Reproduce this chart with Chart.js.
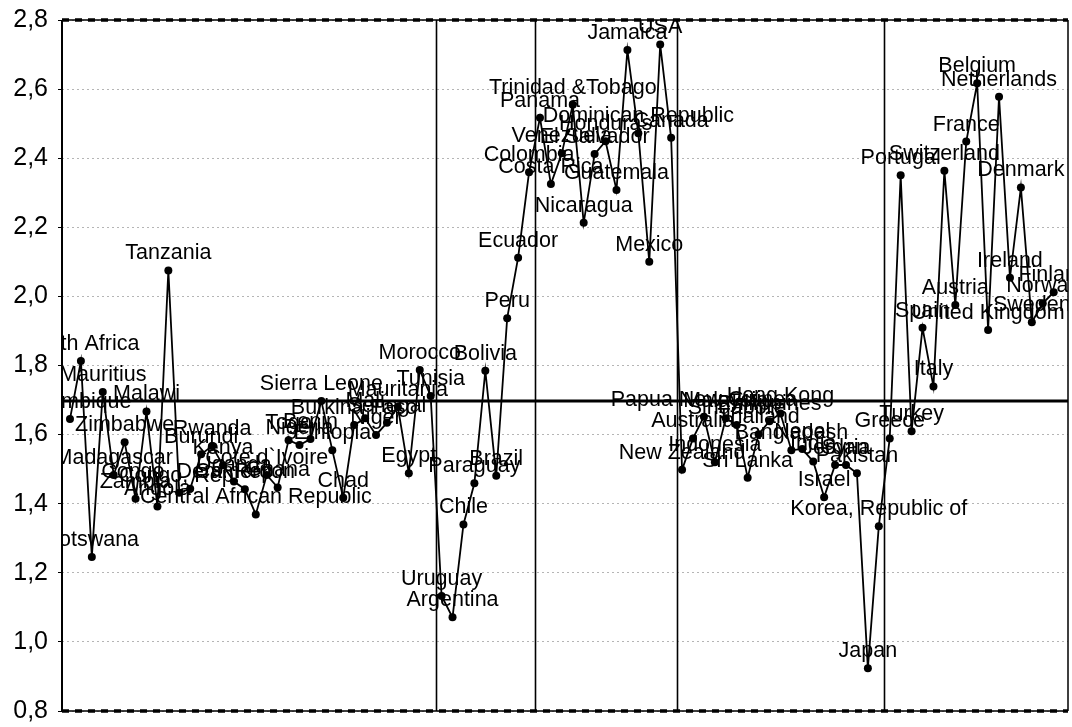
<!DOCTYPE html>
<html>
<head>
<meta charset="utf-8">
<script src="https://cdn.jsdelivr.net/npm/chart.js@4.4.0/dist/chart.umd.min.js"></script>
<style>
body{margin:0;background:#fff;}
#wrap{width:1072px;height:727px;position:relative;}
</style>
</head>
<body>
<div id="wrap"><canvas id="chart"></canvas></div>
<script>
let countries = [
  "Mozambique","South Africa","Botswana","Mauritius","Madagascar","Zimbabwe","Zambia","Malawi","Angola","Tanzania",
  "Congo, Rep.","Congo, Dem. Rep.","Burundi","Rwanda","Kenya","Uganda","Cameroon","Central African Republic","Cote d`Ivoire","Ghana",
  "Togo","Nigeria","Benin","Sierra Leone","Ethiopia","Chad","Burkina Faso","Mali","Niger","Senegal",
  "Mauritania","Egypt","Morocco","Tunisia",
  "Uruguay","Argentina","Chile","Paraguay","Bolivia","Brazil","Peru","Ecuador","Colombia",
  "Panama","Costa Rica","Venezuela","Trinidad &Tobago","Nicaragua","El Salvador","Honduras","Guatemala","Jamaica","Dominican Republic",
  "Mexico","USA","Canada",
  "New Zealand","Australia","Papua New Guinea","Indonesia","Malaysia","Singapore","Sri Lanka","Thailand","Philippines","Hong Kong",
  "Bangladesh","Nepal","India","Israel","Jordan","Syria","Pakistan","Japan","Korea, Republic of",
  "Greece","Portugal","Turkey","Spain","Italy","Switzerland","Austria","France","Belgium","United Kingdom",
  "Netherlands","Ireland","Denmark","Sweden","Norway","Finland"
];

let values = [
  1.645,1.813,1.246,1.723,1.483,1.578,1.414,1.667,1.392,2.075,
  1.432,1.443,1.543,1.567,1.511,1.464,1.442,1.369,1.483,1.447,
  1.584,1.570,1.587,1.697,1.555,1.417,1.628,1.647,1.599,1.634,
  1.680,1.488,1.787,1.712,
  1.133,1.071,1.340,1.459,1.785,1.481,1.937,2.112,2.359,
  2.517,2.325,2.414,2.555,2.213,2.412,2.449,2.308,2.713,2.472,
  2.100,2.729,2.459,
  1.498,1.589,1.652,1.520,1.647,1.628,1.475,1.601,1.639,1.661,
  1.555,1.558,1.522,1.419,1.512,1.512,1.488,0.924,1.335,
  1.589,2.351,1.610,1.909,1.739,2.364,1.975,2.448,2.617,1.903,
  2.578,2.054,2.315,1.925,1.980,2.012
];

let regionBreaks = [33.5, 42.5, 55.5, 74.5];
let meanLevel = 1.697;

let points = values.map((v,i)=>({x:i, y:v}));

const framePlugin = {
  id:"frame",
  beforeDatasetsDraw(chart){
    let ctx=chart.ctx, a=chart.chartArea;
    let xs=chart.scales.x, ys=chart.scales.y;
    ctx.save();
    ctx.strokeStyle="#000";
    ctx.lineWidth=1.6;
    regionBreaks.forEach(b=>{
      let px=Math.round(xs.getPixelForValue(b))+0.5;
      ctx.beginPath();
      ctx.moveTo(px,a.top);
      ctx.lineTo(px,a.bottom);
      ctx.stroke();
    });
    let my=ys.getPixelForValue(meanLevel);
    ctx.lineWidth=3;
    ctx.beginPath();
    ctx.moveTo(a.left,my);
    ctx.lineTo(a.right,my);
    ctx.stroke();
    ctx.restore();
  },
  afterDraw(chart){
    let ctx=chart.ctx, a=chart.chartArea;
    ctx.save();
    ctx.strokeStyle="#000";
    ctx.lineWidth=2;
    ctx.beginPath();
    ctx.moveTo(a.left,a.top); ctx.lineTo(a.left,a.bottom);
    ctx.stroke();
    ctx.lineWidth=1.5;
    ctx.beginPath();
    ctx.moveTo(a.left,a.top); ctx.lineTo(a.right,a.top);
    ctx.moveTo(a.right,a.top); ctx.lineTo(a.right,a.bottom);
    ctx.moveTo(a.left,a.bottom); ctx.lineTo(a.right,a.bottom);
    ctx.stroke();
    ctx.lineWidth=3.5;
    ctx.setLineDash([7,6]);
    ctx.beginPath();
    ctx.moveTo(a.left,a.bottom); ctx.lineTo(a.right,a.bottom);
    ctx.moveTo(a.left,a.top); ctx.lineTo(a.right,a.top);
    ctx.stroke();
    ctx.restore();
  }
};

const labelPlugin = {
  id:"pointNames",
  afterDatasetsDraw(chart){
    let ctx=chart.ctx, a=chart.chartArea;
    let meta=chart.getDatasetMeta(0);
    ctx.save();
    ctx.beginPath();
    ctx.rect(a.left,a.top,a.right-a.left,a.bottom-a.top);
    ctx.clip();
    ctx.font='21.5px "Liberation Sans", Arial, sans-serif';
    ctx.fillStyle="#000";
    ctx.textAlign="center";
    ctx.textBaseline="middle";
    meta.data.forEach((pt,i)=>{
      ctx.fillText(countries[i], pt.x, pt.y-17);
    });
    ctx.restore();
  }
};

new Chart(document.getElementById("chart"),{
  type:"line",
  data:{
    datasets:[{
      data:points,
      borderColor:"#000",
      backgroundColor:"#000",
      borderWidth:1.8,
      pointRadius:4,
      pointHoverRadius:4,
      pointBackgroundColor:"#000",
      pointBorderWidth:0,
      tension:0,
      clip:false
    }]
  },
  options:{
    responsive:true,
    maintainAspectRatio:false,
    animation:false,
    layout:{padding:{top:20,right:2,bottom:16,left:0}},
    plugins:{
      legend:{display:false},
      tooltip:{enabled:false}
    },
    scales:{
      x:{
        type:"linear",
        min:-0.73,
        max:91.31,
        display:false
      },
      y:{
        min:0.8,
        max:2.8,
        afterFit(scale){
          scale.width=62;
          scale.paddingTop=0;
          scale.paddingBottom=0;
        },
        border:{display:false,dash:[2,3]},
        grid:{
          color:"#b5b5b5",
          lineWidth:1,
          tickColor:"#000",
          tickLength:4,
          drawTicks:true
        },
        ticks:{
          stepSize:0.2,
          color:"#000",
          padding:10,
          font:{family:'"Liberation Sans", Arial, sans-serif',size:25},
          callback:(v)=>v.toFixed(1).replace(".",",")
        }
      }
    }
  },
  plugins:[framePlugin,labelPlugin]
});
</script>
</body>
</html>
